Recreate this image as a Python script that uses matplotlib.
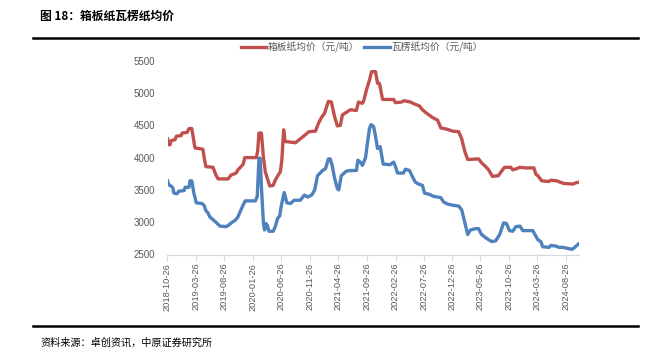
import matplotlib
matplotlib.use("Agg")
import matplotlib.pyplot as plt
import pandas as pd
from matplotlib.lines import Line2D

plt.rcParams['font.family'] = ['Noto Sans CJK SC', 'DejaVu Sans']

# ---------------- data ----------------
red_dates = [
    "2018-10-26", "2018-11-01", "2018-11-09", "2018-11-14", "2018-12-06", "2018-12-12",
    "2019-01-07", "2019-01-12", "2019-02-08", "2019-02-18", "2019-03-05", "2019-03-16",
    "2019-03-22", "2019-05-03", "2019-05-10", "2019-05-19", "2019-06-26", "2019-07-12",
    "2019-07-24", "2019-09-15", "2019-10-01", "2019-10-28", "2019-11-06", "2019-11-20",
    "2019-12-05", "2019-12-13", "2020-02-13", "2020-02-20", "2020-02-27", "2020-03-11",
    "2020-03-22", "2020-04-01", "2020-04-17", "2020-04-25", "2020-05-13", "2020-05-24",
    "2020-06-09", "2020-06-20", "2020-06-28", "2020-07-08", "2020-07-16", "2020-08-13",
    "2020-09-09", "2020-10-05", "2020-11-08", "2020-11-19", "2020-12-25", "2021-01-10",
    "2021-01-26", "2021-02-12", "2021-03-04", "2021-03-20", "2021-04-05", "2021-04-21",
    "2021-05-07", "2021-05-18", "2021-06-08", "2021-06-29", "2021-08-01", "2021-08-12",
    "2021-09-02", "2021-09-09", "2021-09-24", "2021-10-10", "2021-10-21", "2021-11-11",
    "2021-11-22", "2021-12-02", "2021-12-19", "2022-02-16", "2022-02-26", "2022-03-29",
    "2022-04-14", "2022-05-17", "2022-06-07", "2022-07-04", "2022-07-20", "2022-08-10",
    "2022-09-12", "2022-10-09", "2022-10-26", "2022-11-27", "2022-12-29", "2023-01-30",
    "2023-02-15", "2023-03-03", "2023-03-19", "2023-05-16", "2023-06-01", "2023-06-23",
    "2023-07-09", "2023-07-29", "2023-08-30", "2023-09-16", "2023-10-02", "2023-11-04",
    "2023-11-15", "2023-12-07", "2023-12-23", "2024-01-24", "2024-03-07", "2024-03-18",
    "2024-03-28", "2024-04-18", "2024-05-26", "2024-06-06", "2024-07-08", "2024-07-24",
    "2024-08-14", "2024-10-02", "2024-10-17", "2024-11-03",
]
red_values = [
    4300, 4200, 4200, 4260, 4280, 4330,
    4340, 4380, 4390, 4450, 4450, 4250,
    4150, 4130, 4000, 3860, 3850, 3730,
    3670, 3670, 3730, 3760, 3810, 3850,
    3900, 4000, 4000, 4100, 4380, 4380,
    4000, 3780, 3630, 3560, 3570, 3650,
    3730, 3780, 3950, 4430, 4250, 4240,
    4230, 4290, 4370, 4400, 4410, 4530,
    4620, 4690, 4870, 4860, 4650, 4490,
    4500, 4660, 4700, 4740, 4730, 4860,
    4840, 4880, 5050, 5200, 5330, 5330,
    5150, 5150, 4900, 4900, 4850, 4860,
    4880, 4860, 4830, 4800, 4740, 4690,
    4620, 4580, 4460, 4440, 4410, 4400,
    4290, 4100, 3970, 3980, 3920, 3860,
    3810, 3710, 3720, 3790, 3850, 3850,
    3810, 3830, 3850, 3840, 3840, 3740,
    3720, 3640, 3630, 3650, 3640, 3620,
    3600, 3590, 3610, 3620,
]

blue_dates = [
    "2018-10-26", "2018-11-01", "2018-11-14", "2018-11-24", "2018-11-29", "2018-12-16",
    "2018-12-26", "2019-01-23", "2019-01-28", "2019-02-18", "2019-02-23", "2019-03-05",
    "2019-03-16", "2019-03-29", "2019-04-28", "2019-05-10", "2019-05-19", "2019-05-29",
    "2019-06-10", "2019-06-26", "2019-07-12", "2019-08-02", "2019-09-05", "2019-09-20",
    "2019-10-07", "2019-10-23", "2019-11-06", "2019-11-20", "2019-12-05", "2019-12-16",
    "2020-02-08", "2020-02-18", "2020-02-27", "2020-03-04", "2020-03-12", "2020-03-22",
    "2020-03-28", "2020-04-04", "2020-04-12", "2020-04-20", "2020-05-13", "2020-05-24",
    "2020-06-06", "2020-06-17", "2020-06-25", "2020-07-11", "2020-07-25", "2020-08-13",
    "2020-09-03", "2020-10-05", "2020-10-27", "2020-11-13", "2020-12-05", "2020-12-21",
    "2021-01-05", "2021-02-01", "2021-02-17", "2021-03-04", "2021-03-14", "2021-03-25",
    "2021-04-05", "2021-04-21", "2021-04-29", "2021-05-12", "2021-06-08", "2021-06-29",
    "2021-08-01", "2021-08-09", "2021-08-22", "2021-09-02", "2021-09-19", "2021-09-30",
    "2021-10-10", "2021-10-18", "2021-11-01", "2021-11-11", "2021-11-22", "2021-12-06",
    "2021-12-22", "2022-01-28", "2022-02-16", "2022-02-26", "2022-03-09", "2022-04-09",
    "2022-04-20", "2022-05-12", "2022-05-28", "2022-06-12", "2022-06-29", "2022-07-20",
    "2022-07-31", "2022-08-27", "2022-09-17", "2022-10-26", "2022-11-11", "2022-12-02",
    "2023-01-03", "2023-01-30", "2023-02-15", "2023-03-03", "2023-03-19", "2023-04-03",
    "2023-04-30", "2023-05-16", "2023-06-01", "2023-06-28", "2023-07-25", "2023-08-15",
    "2023-09-06", "2023-09-27", "2023-10-12", "2023-10-28", "2023-11-15", "2023-12-01",
    "2023-12-23", "2024-01-08", "2024-03-01", "2024-03-12", "2024-03-28", "2024-04-13",
    "2024-04-23", "2024-05-26", "2024-06-06", "2024-07-03", "2024-07-19", "2024-08-14",
    "2024-08-25", "2024-09-26", "2024-10-07", "2024-11-03",
]
blue_values = [
    3650, 3580, 3560, 3530, 3450, 3440,
    3480, 3490, 3540, 3540, 3640, 3640,
    3450, 3300, 3290, 3260, 3180, 3150,
    3080, 3040, 3000, 2940, 2930, 2960,
    3000, 3030, 3080, 3170, 3270, 3330,
    3330, 3400, 3990, 3990, 3500, 2980,
    2880, 2980, 2950, 2860, 2860, 2930,
    3060, 3100, 3250, 3460, 3300, 3290,
    3340, 3340, 3420, 3390, 3420, 3500,
    3720, 3800, 3830, 3980, 3980, 3870,
    3700, 3520, 3500, 3720, 3790, 3800,
    3800, 3960, 3930, 3880, 4000, 4250,
    4450, 4510, 4480, 4330, 4140, 4170,
    3900, 3890, 3930, 3860, 3760, 3760,
    3820, 3800, 3700, 3620, 3590, 3570,
    3450, 3430, 3400, 3380, 3310, 3280,
    3260, 3250, 3190, 3000, 2810, 2880,
    2900, 2900, 2810, 2750, 2700, 2710,
    2810, 2990, 2980, 2870, 2860, 2930,
    2940, 2870, 2870, 2810, 2730, 2700,
    2620, 2610, 2640, 2630, 2610, 2610,
    2600, 2580, 2600, 2670,
]

red_label = "箱板纸均价（元/吨）"
blue_label = "瓦楞纸均价（元/吨）"
tick_dates = ["2018-10-26", "2019-03-26", "2019-08-26", "2020-01-26", "2020-06-26",
              "2020-11-26", "2021-04-26", "2021-09-26", "2022-02-26", "2022-07-26",
              "2022-12-26", "2023-05-26", "2023-10-26", "2024-03-26", "2024-08-26"]
y_ticks = [2500, 3000, 3500, 4000, 4500, 5000, 5500]
title_text = "图 18：箱板纸瓦楞纸均价"
source_text = "资料来源：卓创资讯，中原证券研究所"

# ---------------- figure ----------------
W, H = 672, 353
fig = plt.figure(figsize=(W / 100, H / 100), dpi=100)
fig.patch.set_facecolor("white")

def fx(px):
    return px / W

def fy(py):
    return 1 - py / H

ax = fig.add_axes([fx(167.5), fy(254.5), fx(579) - fx(167.5), fy(60.7) - fy(254.5)])

RED = "#C0504D"
BLUE = "#4F81BD"
rd = pd.to_datetime(red_dates)
bd = pd.to_datetime(blue_dates)
ax.plot(rd, red_values, color=RED, lw=2.4, solid_joinstyle="round", solid_capstyle="round")
ax.plot(bd, blue_values, color=BLUE, lw=2.4, solid_joinstyle="round", solid_capstyle="round")

ax.set_ylim(2500, 5500)
ax.set_yticks(y_ticks)
ax.set_xlim(pd.Timestamp(red_dates[0]), pd.Timestamp(red_dates[-1]))
td = pd.to_datetime(tick_dates)
ax.set_xticks(td)
ax.set_xticklabels(tick_dates, rotation=90)

for s in ["top", "right", "left"]:
    ax.spines[s].set_visible(False)
ax.spines["bottom"].set_color("#D9D9D9")
ax.spines["bottom"].set_linewidth(0.9)
ax.tick_params(axis="x", direction="out", length=4, width=0.8, color="#D9D9D9",
               labelsize=6.7, labelcolor="#595959", pad=2)
ax.tick_params(axis="y", length=0, labelsize=7, labelcolor="#595959", pad=9)
for lab in ax.get_xticklabels() + ax.get_yticklabels():
    lab.set_fontfamily(["Liberation Sans", "DejaVu Sans"])

# legend
handles = [Line2D([], [], color=RED, lw=2.4), Line2D([], [], color=BLUE, lw=2.4)]
leg = fig.legend(handles, [red_label, blue_label], loc="center",
                 bbox_to_anchor=(fx(362), fy(47)), ncol=2, frameon=False,
                 fontsize=7, handlelength=2.6, handletextpad=0.2, columnspacing=0.5)
for t in leg.get_texts():
    t.set_color("#595959")

# title, rules and source
fig.text(fx(40), fy(16), title_text, fontsize=8.5, fontweight="bold",
         ha="left", va="center", color="black")
fig.add_artist(Line2D([fx(33), fx(638)], [fy(37.5), fy(37.5)], color="black", lw=1.8))
fig.add_artist(Line2D([fx(33), fx(638)], [fy(326), fy(326)], color="black", lw=1.8))
fig.text(fx(40), fy(342), source_text, fontsize=7.3, ha="left", va="center", color="black")

fig.savefig("out.png", dpi=100, facecolor="white")
